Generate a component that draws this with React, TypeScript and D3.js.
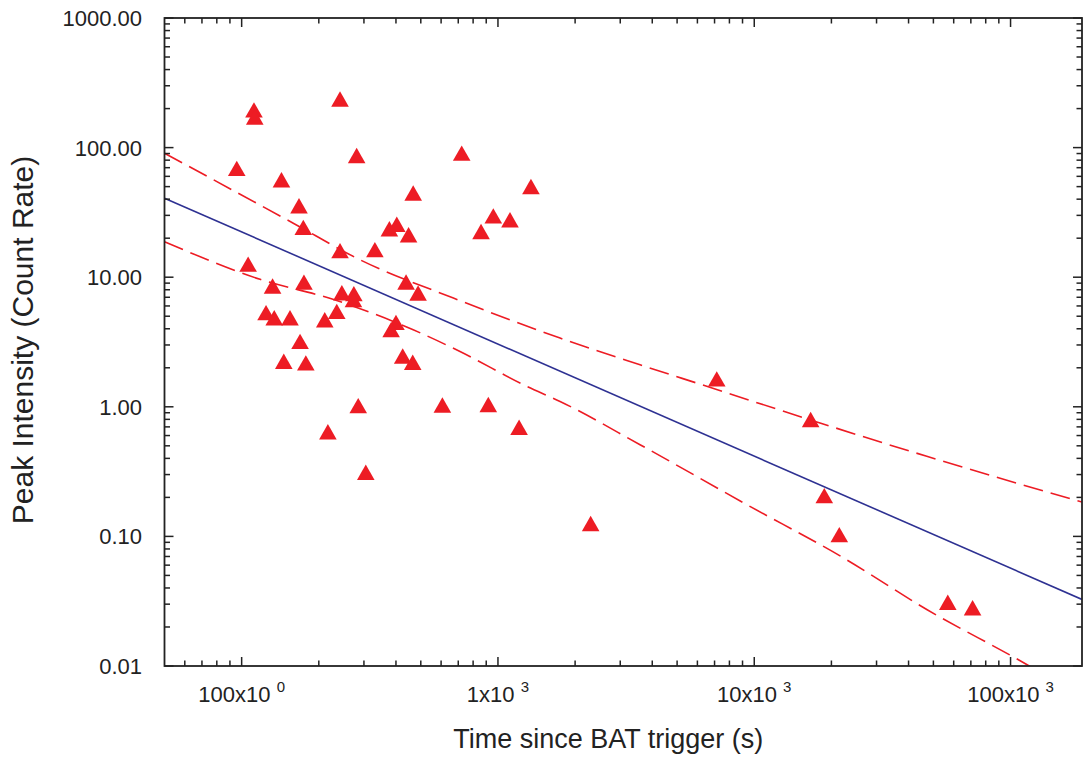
import React from "react";
import * as d3 from "d3";

// Observed flares: time since trigger (s) and peak count rate
const pointTime = [
  95.7, 111.7, 112.5, 242, 281, 143, 167.4, 174, 106, 132, 175, 246, 274, 273,
  242, 331, 377, 403, 448, 467, 438, 488, 124.5, 134, 154.4, 211, 235, 169, 146,
  178, 400, 383, 425, 465, 285, 607, 217, 305, 722, 1345, 959, 1114, 859, 917,
  1209, 2300, 7140, 16600, 18760, 21470, 56900, 71100,
];
const pointRate = [
  69, 195, 172, 237, 86.7, 56.4, 35.5, 24.2, 12.6, 8.54, 9.14, 7.58, 7.45, 6.7,
  16.0, 16.3, 23.6, 25.6, 21.2, 44.5, 9.17, 7.54, 5.32, 4.86, 4.86, 4.69, 5.44,
  3.19, 2.24, 2.18, 4.47, 3.93, 2.46, 2.2, 1.02, 1.03, 0.64, 0.312, 90.5, 50,
  29.7, 27.7, 22.5, 1.04, 0.694, 0.1255, 1.64, 0.796, 0.206, 0.103, 0.031,
  0.0281,
];

// Fitted power law (two ends, straight in log-log)
const fitTime = [50, 190000];
const fitRate = [40.7, 0.0326];

// Confidence band
const upperTime = [50, 159, 290, 670, 1747, 3584, 6524, 18050, 47100, 190000];
const upperRate = [90.5, 26.1, 13.6, 6.9, 3.39, 2.11, 1.44, 0.75, 0.415, 0.184];
const lowerTime = [
  50, 118, 227, 467, 711, 1295, 1747, 3584, 9345, 22200, 47100, 115600, 190000,
];
const lowerRate = [
  18.8, 9.63, 6.75, 3.93, 2.67, 1.44, 1.1, 0.51, 0.176, 0.0686, 0.0273, 0.01027,
  0.0057,
];

// Axis ticks
const yTickValues = [0.01, 0.1, 1, 10, 100, 1000];
const xTickValues = [100, 1000, 10000, 100000];
const xTickMantissa = ["100x10", "1x10", "10x10", "100x10"];
const xTickExponent = ["0", "3", "3", "3"];

const W = 1084;
const H = 761;
const left = 164.5;
const right = 1082;
const top = 18;
const bottom = 666;

const RED = "#ed1c24";
const BLUE = "#2e3192";
const FONT = "'Liberation Sans', Arial, Helvetica, sans-serif";

export default function App() {
  const x = d3.scaleLog().domain([50, 190000]).range([left, right]);
  const y = d3.scaleLog().domain([0.01, 1000]).range([bottom, top]);

  // minor ticks: 2..9 in every decade inside the domain
  const minorX: number[] = [];
  for (let d = 10; d <= 100000; d *= 10) {
    for (let k = 2; k <= 9; k++) {
      const v = d * k;
      if (v > 50 && v < 190000 && !xTickValues.includes(v)) minorX.push(v);
    }
  }
  const minorY: number[] = [];
  for (let d = 0.01; d < 1000; d *= 10) {
    for (let k = 2; k <= 9; k++) minorY.push(d * k);
  }

  const line = d3
    .line<[number, number]>()
    .x((d) => x(d[0]))
    .y((d) => y(d[1]))
    .curve(d3.curveMonotoneX);

  const fitPath = line(fitTime.map((t, i) => [t, fitRate[i]]));
  const upperPath = line(upperTime.map((t, i) => [t, upperRate[i]]));
  const lowerPath = line(lowerTime.map((t, i) => [t, lowerRate[i]]));

  const tri = "M0,-7.8L8.8,7.6L-8.8,7.6Z";
  const majorLen = 9;
  const minorLen = 5.5;

  return (
    <svg
      width={W}
      height={H}
      style={{ position: "absolute", left: 0, top: 0, background: "#fff" }}
      fontFamily={FONT}
    >
      <defs>
        <clipPath id="plot">
          <rect x={left} y={top} width={right - left} height={bottom - top} />
        </clipPath>
      </defs>

      <g clipPath="url(#plot)" fill="none">
        <path d={upperPath || ""} stroke={RED} strokeWidth={1.6} strokeDasharray="20,8" />
        <path d={lowerPath || ""} stroke={RED} strokeWidth={1.6} strokeDasharray="20,8" />
        <path d={fitPath || ""} stroke={BLUE} strokeWidth={1.6} />
      </g>

      {pointTime.map((t, i) => (
        <path
          key={i}
          d={tri}
          transform={`translate(${x(t)},${y(pointRate[i])})`}
          fill={RED}
        />
      ))}

      {/* frame */}
      <rect
        x={left}
        y={top}
        width={right - left}
        height={bottom - top}
        fill="none"
        stroke="#222"
        strokeWidth={1.8}
      />

      {/* ticks on all four sides, pointing inward */}
      <g stroke="#222" strokeWidth={1.5}>
        {xTickValues.map((v) => (
          <g key={"xm" + v}>
            <line x1={x(v)} x2={x(v)} y1={bottom} y2={bottom - majorLen} />
            <line x1={x(v)} x2={x(v)} y1={top} y2={top + majorLen} />
          </g>
        ))}
        {minorX.map((v) => (
          <g key={"xn" + v}>
            <line x1={x(v)} x2={x(v)} y1={bottom} y2={bottom - minorLen} />
            <line x1={x(v)} x2={x(v)} y1={top} y2={top + minorLen} />
          </g>
        ))}
        {yTickValues.map((v) => (
          <g key={"ym" + v}>
            <line x1={left} x2={left + majorLen} y1={y(v)} y2={y(v)} />
            <line x1={right} x2={right - majorLen} y1={y(v)} y2={y(v)} />
          </g>
        ))}
        {minorY.map((v) => (
          <g key={"yn" + v}>
            <line x1={left} x2={left + minorLen} y1={y(v)} y2={y(v)} />
            <line x1={right} x2={right - minorLen} y1={y(v)} y2={y(v)} />
          </g>
        ))}
      </g>

      {/* y tick labels */}
      {yTickValues.map((v) => (
        <text
          key={"yl" + v}
          x={142}
          y={y(v)}
          dy="0.36em"
          textAnchor="end"
          fontSize={22}
          fill="#222"
        >
          {d3.format(".2f")(v)}
        </text>
      ))}

      {/* x tick labels */}
      {xTickValues.map((v, i) => (
        <text
          key={"xl" + v}
          x={x(v)}
          y={702}
          textAnchor="middle"
          fontSize={22}
          fill="#222"
        >
          {xTickMantissa[i] + " "}
          <tspan fontSize={15} dy={-10}>
            {xTickExponent[i]}
          </tspan>
        </text>
      ))}

      <text
        x={(left + right) / 2 - 15}
        y={748}
        textAnchor="middle"
        fontSize={27}
        fill="#222"
      >
        Time since BAT trigger (s)
      </text>
      <text
        transform={`translate(33,${340}) rotate(-90)`}
        textAnchor="middle"
        fontSize={30}
        fill="#222"
      >
        Peak Intensity (Count Rate)
      </text>
    </svg>
  );
}
